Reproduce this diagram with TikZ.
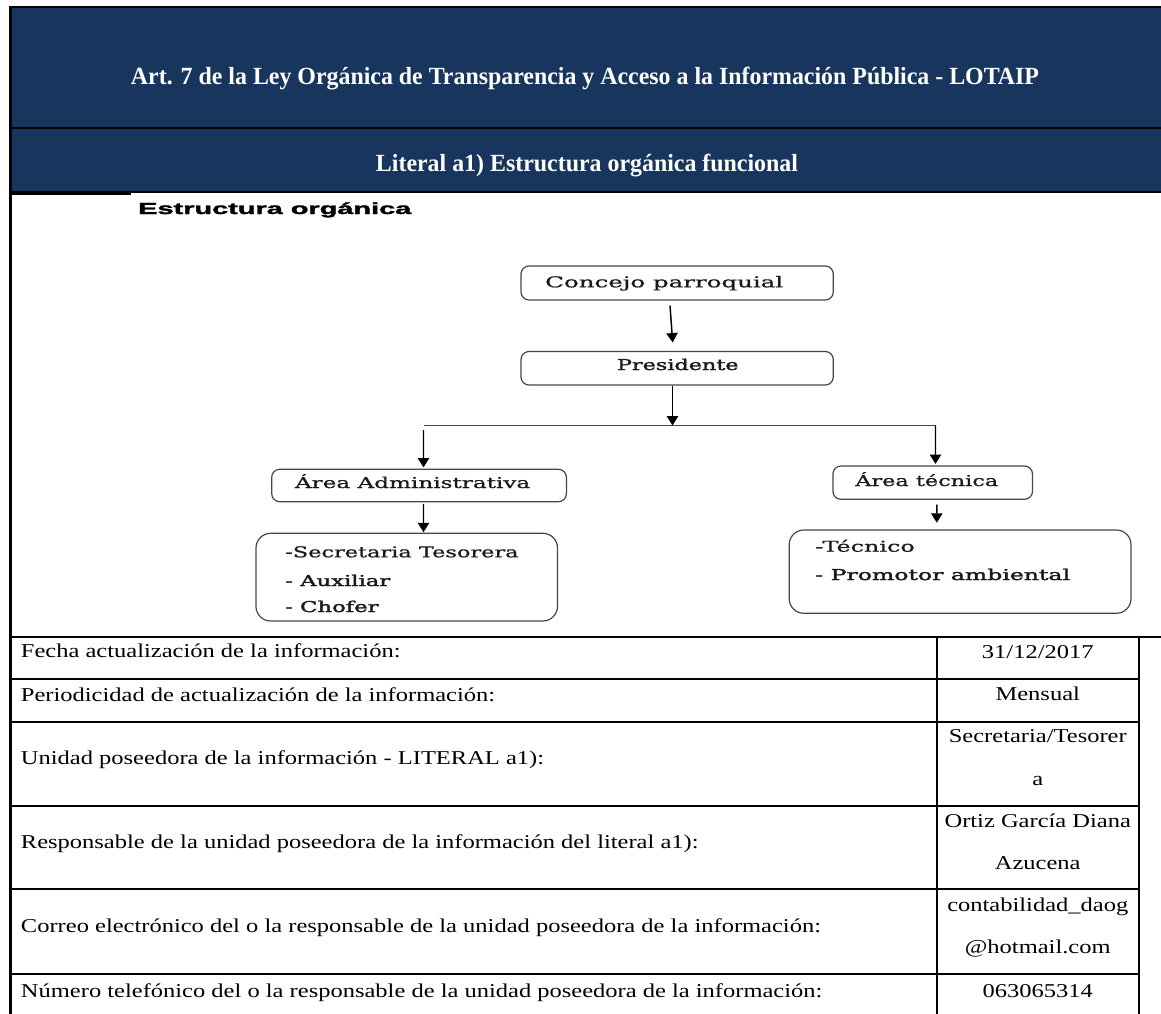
\documentclass[tikz,border=0pt]{standalone}
\usepackage{fontspec}
\usepackage{graphicx}
\usetikzlibrary{arrows.meta,calc,fit}
\setmainfont{Liberation Serif}
\newfontfamily\tblfont{Liberation Serif}[FakeStretch=1.25]
\newfontfamily\chartfont{DejaVu Serif}[FakeBold=0.7]
\newfontfamily\chartheavy{DejaVu Serif}[FakeBold=1.8]
\newfontfamily\titlesans{Liberation Sans Bold}[FakeBold=1.6]
% one drawing unit = one pixel
\newlength\pxu \setlength\pxu{0.75pt}
% set a text to a given width (in pixels), keeping its height
\newcommand\fitw[2]{\resizebox{#1\pxu}{\height}{#2}}
\definecolor{navy}{RGB}{24,54,93}
\definecolor{boxgray}{RGB}{70,70,70}
\definecolor{chartink}{RGB}{25,25,25}
\begin{document}
\begin{tikzpicture}[x=0.75pt,y=-0.75pt,
  box/.style={draw=boxgray, line width=0.9pt, rounded corners=6pt, inner sep=0pt},
  staffbox/.style={box, rounded corners=11pt},
  arr/.style={draw=black, line width=1.1pt, -{Triangle[length=7pt,width=8.5pt]}},
  ctext/.style={inner sep=0pt, anchor=base west, text=chartink,
                font=\chartfont\fontsize{11.2pt}{13pt}\selectfont},
  cheavy/.style={ctext, font=\chartheavy\fontsize{11.2pt}{13pt}\selectfont},
  htext/.style={inner sep=0pt, anchor=base, text=white,
                font=\bfseries\fontsize{18.5pt}{22pt}\selectfont},
  lab/.style={inner sep=0pt, anchor=base west, font=\tblfont\fontsize{14.7pt}{17pt}\selectfont},
  val/.style={inner sep=0pt, anchor=base, font=\tblfont\fontsize{14.7pt}{17pt}\selectfont},
  rule/.style={draw=black, line width=1.5pt}
]
\useasboundingbox (0,0) rectangle (1161,1014);

% ---------- heading bands ----------
\fill[navy] (10,7) rectangle (1161,192.3);
\draw[rule] (10,7) -- (1161,7);
\draw[rule] (10,127.7) -- (1161,127.7);
\draw[rule] (10,192.3) -- (1161,192.3);
\draw[black, line width=2.2pt] (10,193.5) -- (131,193.5);
\draw[black, line width=1.9pt] (10.5,6) -- (10.5,1014);

\node[htext] (hdrA) at (585,84)
  {\fitw{908}{Art. 7 de la Ley Orgánica de Transparencia y Acceso a la Información Pública - LOTAIP}};
\node[htext] (hdrB) at (587,171)
  {\fitw{422}{Literal a1) Estructura orgánica funcional}};

% ---------- organisation chart ----------
\node[inner sep=0pt, anchor=base west, font=\titlesans\fontsize{12pt}{14pt}\selectfont]
  (title) at (138,214) {\fitw{273}{Estructura orgánica}};

\node[box, fit={(521,266) (833.3,300)}] (concejo) {};
\node[ctext] (concejoTxt) at (545,287.3) {\fitw{238}{Concejo parroquial}};

\node[box, fit={(521,351.5) (833.3,385)}] (pres) {};
\node[cheavy] (presTxt) at (616.7,370) {\fitw{121.6}{Presidente}};

\node[box, fit={(271.7,469.3) (566.4,501.7)}] (admin) {};
\node[ctext] (adminTxt) at (294.7,488) {\fitw{235.3}{Área Administrativa}};

\node[box, fit={(832.9,466) (1032.5,499.3)}] (tec) {};
\node[ctext] (tecTxt) at (855,486) {\fitw{143}{Área técnica}};

\node[staffbox, fit={(256,533.3) (557.5,621)}] (adminStaff) {};
\node[ctext] (sec) at (285,557.3) {\fitw{233.3}{-Secretaria Tesorera}};
\node[cheavy] (aux) at (285,586) {\fitw{105}{- Auxiliar}};
\node[cheavy] (cho) at (285,612) {\fitw{93.3}{- Chofer}};

\node[staffbox, fit={(789.2,530) (1131,613.3)}] (techStaff) {};
\node[ctext] (tecn) at (815,551.7) {\fitw{99.5}{-Técnico}};
\node[cheavy] (prom) at (815,580) {\fitw{254.8}{- Promotor ambiental}};

% branch bar under the president
\coordinate (bar) at (672.5,425.5);
\coordinate (barL) at (423.5,425.5);
\coordinate (barR) at (935.5,425.5);

\draw[arr] ($(concejo.south)+(-7.15,5)$) -- ($(pres.north)+(-4.45,-8.5)$);
\draw[arr] ($(pres.south)+(-4.65,0)$) -- (bar);
\draw[boxgray, line width=0.8pt] (barL) -- (barR);
\draw[arr] (barR) -- ($(tec.north)+(2.8,-1.5)$);
\draw[arr] ($(barL)+(0,4.5)$) -- ($(admin.north)+(4.45,-1.3)$);
\draw[arr] ($(admin.south)+(4.45,1.5)$) -- ($(adminStaff.north)+(16.75,-0.5)$);
\draw[arr] ($(tec.south)+(4.1,4.7)$) -- ($(techStaff.north)+(-23.3,-6.7)$);

% ---------- information table ----------
\draw[rule] (10,636.7) -- (1161,636.7);
\foreach \yy in {679.3,721.7,805.7,889.3,974.3}
  \draw[rule] (10,\yy) -- (1139,\yy);
\draw[rule] (936.5,636.7) -- (936.5,1014);
\draw[rule] (1139,636.7) -- (1139,1014);

\node[lab] (lab1) at (20.7,657.7) {Fecha actualización de la información:};
\node[lab] (lab2) at (20.7,701)   {Periodicidad de actualización de la información:};
\node[lab] (lab3) at (20.7,764)   {Unidad poseedora de la información - LITERAL a1):};
\node[lab] (lab4) at (20.7,848)   {Responsable de la unidad poseedora de la información del literal a1):};
\node[lab] (lab5) at (20.7,932)   {Correo electrónico del o la responsable de la unidad poseedora de la información:};
\node[lab] (lab6) at (20.7,997)   {Número telefónico del o la responsable de la unidad poseedora de la información:};

\node[val] (val1)  at (1037.75,658)   {31/12/2017};
\node[val] (val2)  at (1037.75,700.5) {Mensual};
\node[val] (val3a) at (1037.75,742.7) {Secretaria/Tesorer};
\node[val] (val3b) at (1037.75,785)   {a};
\node[val] (val4a) at (1037.75,827)   {Ortiz García Diana};
\node[val] (val4b) at (1037.75,869)   {Azucena};
\node[val] (val5a) at (1037.75,911)   {contabilidad\_daog};
\node[val] (val5b) at (1037.75,953)   {@hotmail.com};
\node[val] (val6)  at (1037.75,997)   {063065314};
\end{tikzpicture}
\end{document}
